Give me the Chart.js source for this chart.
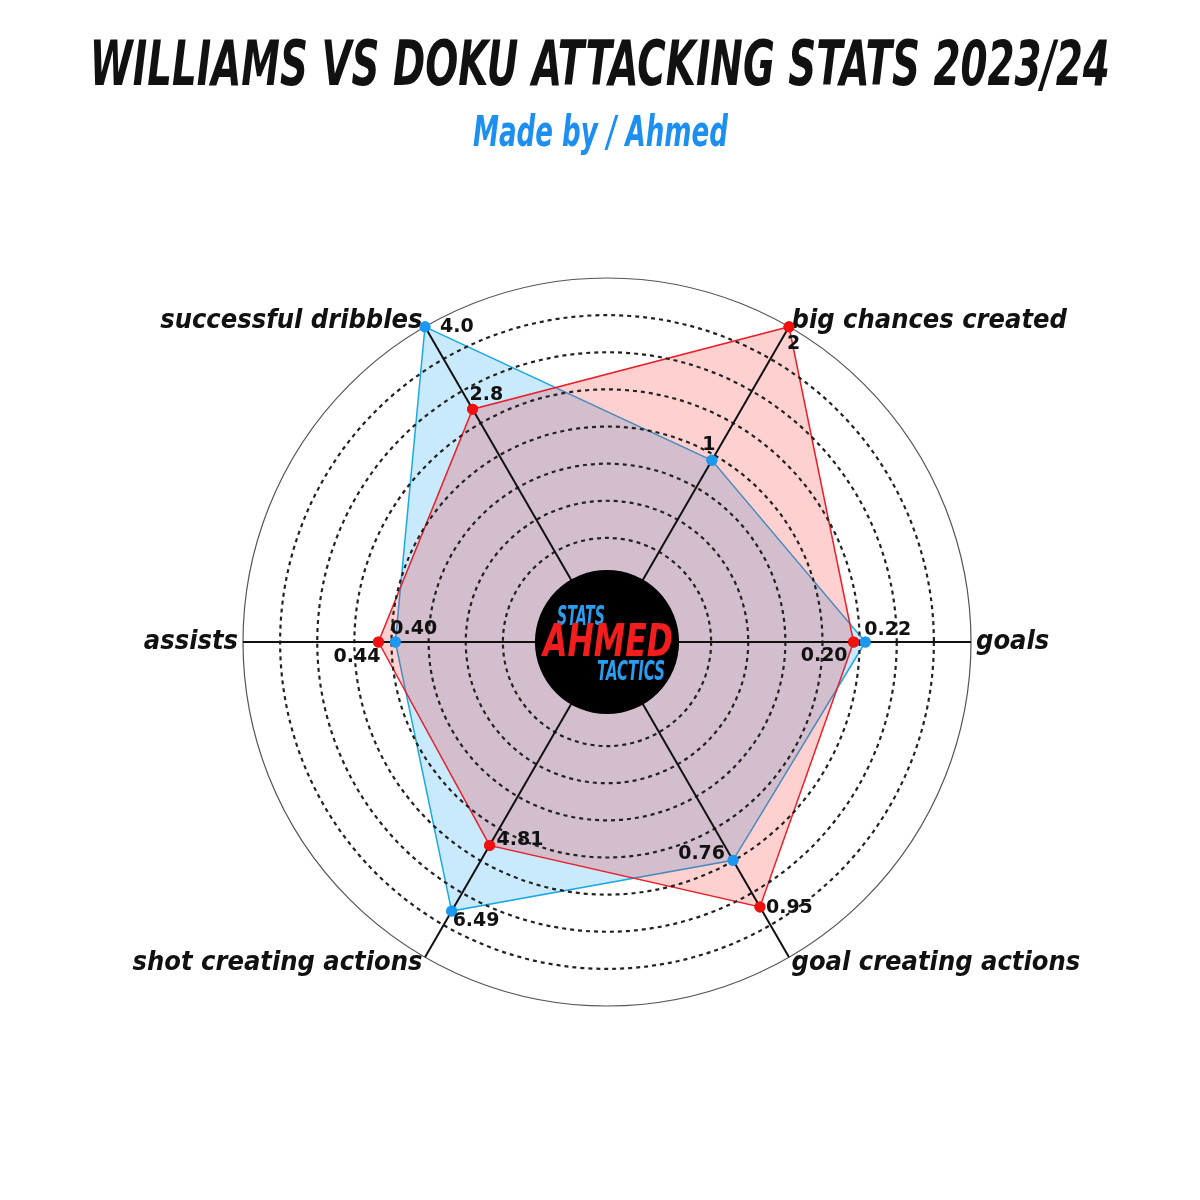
<!DOCTYPE html>
<html>
<head>
<meta charset="utf-8">
<title>Williams vs Doku</title>
<script src="https://cdn.jsdelivr.net/npm/chart.js@4.4.1/dist/chart.umd.min.js"></script>
<style>
    body { margin: 0; background: #fff; }
    #wrap { position: relative; width: 1200px; height: 1200px; overflow: hidden; }
    #radar { position: absolute; left: 0; top: 0; }
    .ttl {
        position: absolute; left: -400px; width: 2000px; text-align: center;
        font-family: "DejaVu Sans Condensed", "Liberation Sans Narrow", sans-serif;
        font-weight: bold; font-style: italic; white-space: nowrap;
    }
    .ttl span { display: inline-block; }
    #title { top: 32px; font-size: 63px; line-height: 63px; color: #111; }
    #sub { top: 111px; font-size: 42px; line-height: 42px; color: #1c8ff0; }
</style>
</head>
<body>
<div id="wrap">
    <canvas id="radar" width="1200" height="1200"></canvas>
    <div class="ttl" id="title"><span>WILLIAMS VS DOKU ATTACKING STATS 2023/24</span></div>
    <div class="ttl" id="sub"><span>Made by / Ahmed</span></div>
</div>
<script>
    // == DỮ LIỆU ==
    const axisLabels = ['goals', 'goal creating actions', 'shot creating actions', 'assists', 'successful dribbles', 'big chances created'];
    const williams = [0.20, 0.95, 4.81, 0.44, 2.8, 2];
    const doku = [0.22, 0.76, 6.49, 0.40, 4.0, 1];
    // each axis has its own range (centre -> outer circle)
    const axisLow = [-0.22, -0.13, -0.39, -0.10, -0.59, -0.36];
    const axisHigh = [0.40, 1.155, 7.67, 0.76, 4.0, 2.0];
    const decimals = [2, 2, 2, 2, 1, 0];

    // where the value text sits next to its point: [dx, dy, align]
    const williamsTextPos = [[-6, 14, 'right'], [6, 1, 'left'], [7, -5, 'left'], [2, 15, 'right'], [-3, -14, 'left'], [-2, 17, 'left']];
    const dokuTextPos = [[-1, -12, 'left'], [-8, -6, 'right'], [1, 10, 'left'], [-5, -13, 'left'], [15, 0, 'left'], [-3, -15, 'center']];

    // rings: outer solid circle + 7 dotted ones
    const ringStep = 0.102;
    const ringValues = [0];
    for (let k = 7; k >= 0; k--) ringValues.push(1 - k * ringStep);

    const condFont = '"DejaVu Sans Condensed", "Liberation Sans Narrow", sans-serif';

    function scaled(values) {
        return values.map((v, i) => (v - axisLow[i]) / (axisHigh[i] - axisLow[i]));
    }

    // fit title widths
    function fitText(id, target) {
        const span = document.querySelector('#' + id + ' span');
        const w = span.getBoundingClientRect().width;
        span.style.transform = 'scaleX(' + (target / w) + ')';
    }
    fitText('title', 1020);
    fitText('sub', 255);

    // text squeezed to a given width (logo)
    function squeezeText(ctx, text, x, y, width) {
        const w = ctx.measureText(text).width;
        ctx.save();
        ctx.translate(x, y);
        ctx.scale(width / w, 1);
        ctx.fillText(text, 0, 0);
        ctx.restore();
    }

    // == VẼ LẠI ĐIỂM, LOGO, SỐ LIỆU (trên cùng) ==
    const overlay = {
        id: 'overlay',
        afterDraw(chart) {
            const r = chart.scales.r;
            const ctx = chart.ctx;
            // points above the axis lines
            for (let di = chart.data.datasets.length - 1; di >= 0; di--) {
                chart.getDatasetMeta(di).data.forEach(pt => pt.draw(ctx, chart.chartArea));
            }

            const x = r.xCenter, y = r.yCenter;
            ctx.save();
            ctx.beginPath();
            ctx.arc(x, y, r.getDistanceFromCenterForValue(0.198), 0, Math.PI * 2);
            ctx.fillStyle = '#000';
            ctx.fill();
            ctx.textAlign = 'center';
            ctx.textBaseline = 'middle';
            ctx.font = 'italic bold 26px ' + condFont;
            ctx.fillStyle = '#2b9df0';
            squeezeText(ctx, 'STATS', x - 26, y - 24, 48);
            squeezeText(ctx, 'TACTICS', x + 24, y + 31, 68);
            ctx.font = 'italic bold 45px ' + condFont;
            ctx.fillStyle = '#f21d1d';
            squeezeText(ctx, 'AHMED', x + 1, y + 2, 130);

            // value text
            const sets = [[williams, williamsTextPos], [doku, dokuTextPos]];
            ctx.font = 'bold 19px "DejaVu Sans", sans-serif';
            ctx.fillStyle = '#111';
            sets.forEach(([vals, pos], di) => {
                const meta = chart.getDatasetMeta(di);
                meta.data.forEach((pt, i) => {
                    ctx.textAlign = pos[i][2];
                    ctx.fillText(vals[i].toFixed(decimals[i]), pt.x + pos[i][0], pt.y + pos[i][1]);
                });
            });
            ctx.restore();
        }
    };

    const ctx = document.getElementById('radar').getContext('2d');
    new Chart(ctx, {
        type: 'radar',
        data: {
            labels: axisLabels,
            datasets: [{
                label: 'Williams',
                data: scaled(williams),
                borderColor: '#e8202a',
                backgroundColor: 'rgba(255, 20, 20, 0.2)',
                borderWidth: 1.5,
                pointRadius: 5.5,
                pointBorderWidth: 0,
                pointBackgroundColor: '#f01010',
                fill: true
            }, {
                label: 'Doku',
                data: scaled(doku),
                borderColor: '#1ca8e6',
                backgroundColor: 'rgba(135, 206, 250, 0.45)',
                borderWidth: 1.5,
                pointRadius: 5.5,
                pointBorderWidth: 0,
                pointBackgroundColor: '#1c98f0',
                fill: true
            }]
        },
        options: {
            responsive: false,
            animation: false,
            layout: { padding: { top: 278, bottom: 194, left: 14, right: 0 } },
            plugins: {
                legend: { display: false },
                tooltip: { enabled: false }
            },
            scales: {
                r: {
                    min: 0,
                    max: 1,
                    startAngle: 90,
                    afterBuildTicks: (scale) => {
                        scale.ticks = ringValues.map(v => ({ value: v }));
                    },
                    ticks: { display: false },
                    grid: {
                        z: 1, // rings + axes drawn over the fills
                        circular: true,
                        color: (c) => (c.tick && c.tick.value >= 1) ? '#555' : '#222',
                        lineWidth: (c) => (c.tick && c.tick.value >= 1) ? 1.2 : 2.2
                    },
                    border: {
                        dash: (c) => (c.tick && c.tick.value >= 1) ? [] : [4, 4]
                    },
                    angleLines: { color: '#111', lineWidth: 2 },
                    pointLabels: {
                        color: '#111',
                        padding: 5,
                        font: { family: condFont, size: 27, style: 'italic', weight: 'bold', lineHeight: 0.1 }
                    }
                }
            }
        },
        plugins: [overlay]
    });
</script>
</body>
</html>
